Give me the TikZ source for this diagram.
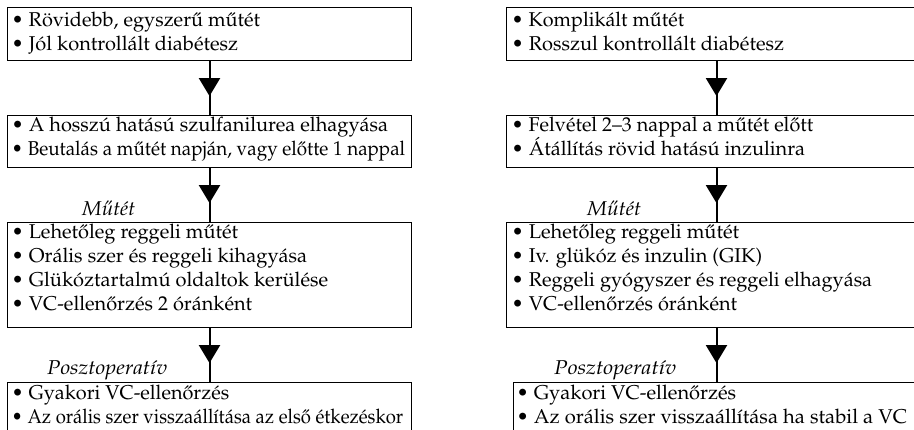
\documentclass[tikz,border=0pt]{standalone}
\usepackage[T1]{fontenc}
\usepackage{mathpazo}
\usepackage{graphicx}
\usetikzlibrary{arrows.meta,decorations.markings}
\newcommand{\fitline}[2]{\resizebox{#1pt}{\height}{#2}}
\begin{document}
\begin{tikzpicture}[x=1pt,y=-1pt,
  box/.style={draw, line width=1pt, inner sep=0pt, anchor=north west},
  txt/.style={anchor=base west, inner sep=0pt, font=\fontsize{20}{24}\selectfont},
  lab/.style={anchor=base west, inner sep=0pt, font=\fontsize{20}{24}\selectfont\itshape},
  flow/.style={line width=2pt, postaction={decorate},
    decoration={markings, mark=at position 0.65 with {\arrow{Triangle[length=18pt,width=21pt]}}}}]
\useasboundingbox (0,0) rectangle (914,430);
% left column boxes
\node[box, minimum width=404pt, minimum height=53pt] (L1) at (7,7) {};
\node[box, minimum width=404pt, minimum height=52pt] (L2) at (7,115) {};
\node[box, minimum width=404pt, minimum height=105pt] (L3) at (7,222) {};
\node[box, minimum width=404pt, minimum height=70pt] (L4) at (7,382) {};
% right column boxes
\node[box, minimum width=420pt, minimum height=53pt] (R1) at (506,7) {};
\node[box, minimum width=420pt, minimum height=52pt] (R2) at (506,115) {};
\node[box, minimum width=420pt, minimum height=105pt] (R3) at (506,222) {};
\node[box, minimum width=420pt, minimum height=70pt] (R4) at (513,382) {};
% left texts
\node[txt] (l1a) at (11.5,26.5) {\fitline{248.5}{\textbullet\ R\"ovidebb, egyszer\H{u} m\H{u}t\'et}};
\node[txt] (l1b) at (11.5,50.5) {\fitline{226.5}{\textbullet\ J\'ol kontroll\'alt diab\'etesz}};
\node[txt] (l2a) at (11.5,132) {\fitline{376.5}{\textbullet\ A hossz\'u hat\'as\'u szulfanilurea elhagy\'asa}};
\node[txt] (l2b) at (11.5,156) {\fitline{393.5}{\textbullet\ Beutal\'as a m\H{u}t\'et napj\'an, vagy el\H{o}tte 1 nappal}};
\node[txt] (l3a) at (11.5,238.5) {\fitline{226.5}{\textbullet\ Lehet\H{o}leg reggeli m\H{u}t\'et}};
\node[txt] (l3b) at (11.5,262.5) {\fitline{295.5}{\textbullet\ Or\'alis szer \'es reggeli kihagy\'asa}};
\node[txt] (l3c) at (11.5,286.5) {\fitline{316.5}{\textbullet\ Gl\"uk\'oztartalm\'u oldaltok ker\"ul\'ese}};
\node[txt] (l3d) at (11.5,310.5) {\fitline{240.5}{\textbullet\ VC-ellen\H{o}rz\'es 2 \'or\'ank\'ent}};
\node[txt] (l4a) at (11.5,399.5) {\fitline{217.5}{\textbullet\ Gyakori VC-ellen\H{o}rz\'es}};
\node[txt] (l4b) at (11.5,423.5) {\fitline{391.5}{\textbullet\ Az or\'alis szer vissza\'all\'it\'asa az els\H{o} \'etkez\'eskor}};
% right texts
\node[txt] (r1a) at (511.5,26.5) {\fitline{172.5}{\textbullet\ Komplik\'alt m\H{u}t\'et}};
\node[txt] (r1b) at (511.5,50.5) {\fitline{272.5}{\textbullet\ Rosszul kontroll\'alt diab\'etesz}};
\node[txt] (r2a) at (511.5,132) {\fitline{301.5}{\textbullet\ Felv\'etel 2--3 nappal a m\H{u}t\'et el\H{o}tt}};
\node[txt] (r2b) at (511.5,156) {\fitline{293.5}{\textbullet\ \'At\'all\'it\'as r\"ovid hat\'as\'u inzulinra}};
\node[txt] (r3a) at (511.5,238.5) {\fitline{227.5}{\textbullet\ Lehet\H{o}leg reggeli m\H{u}t\'et}};
\node[txt] (r3b) at (511.5,262.5) {\fitline{250.5}{\textbullet\ Iv. gl\"uk\'oz \'es inzulin (GIK)}};
\node[txt] (r3c) at (511.5,286.5) {\fitline{360.5}{\textbullet\ Reggeli gy\'ogyszer \'es reggeli elhagy\'asa}};
\node[txt] (r3d) at (511.5,310.5) {\fitline{225.5}{\textbullet\ VC-ellen\H{o}rz\'es \'or\'ank\'ent}};
\node[txt] (r4a) at (516.5,399.5) {\fitline{219.5}{\textbullet\ Gyakori VC-ellen\H{o}rz\'es}};
\node[txt] (r4b) at (516.5,423.5) {\fitline{390.5}{\textbullet\ Az or\'alis szer vissza\'all\'it\'asa ha stabil a VC}};
% labels
\node[lab] (lm) at (82,216) {\fitline{53}{M\H{u}t\'et}};
\node[lab] (rm) at (587,216) {\fitline{54}{M\H{u}t\'et}};
\node[lab] (lp) at (47,375) {\fitline{120}{Posztoperat\'iv}};
\node[lab] (rp) at (554,375) {\fitline{122}{Posztoperat\'iv}};
% connectors
\draw[flow] (L1.south) -- (L2.north);
\draw[flow] (L2.south) -- (L3.north);
\draw[flow] (L3.south) -- (L4.north);
\draw[flow] (R1.south) -- (R2.north);
\draw[flow] (R2.south) -- (R3.north);
\draw[flow] (R3.south) -- (R3.south |- R4.north);
\end{tikzpicture}
\end{document}
